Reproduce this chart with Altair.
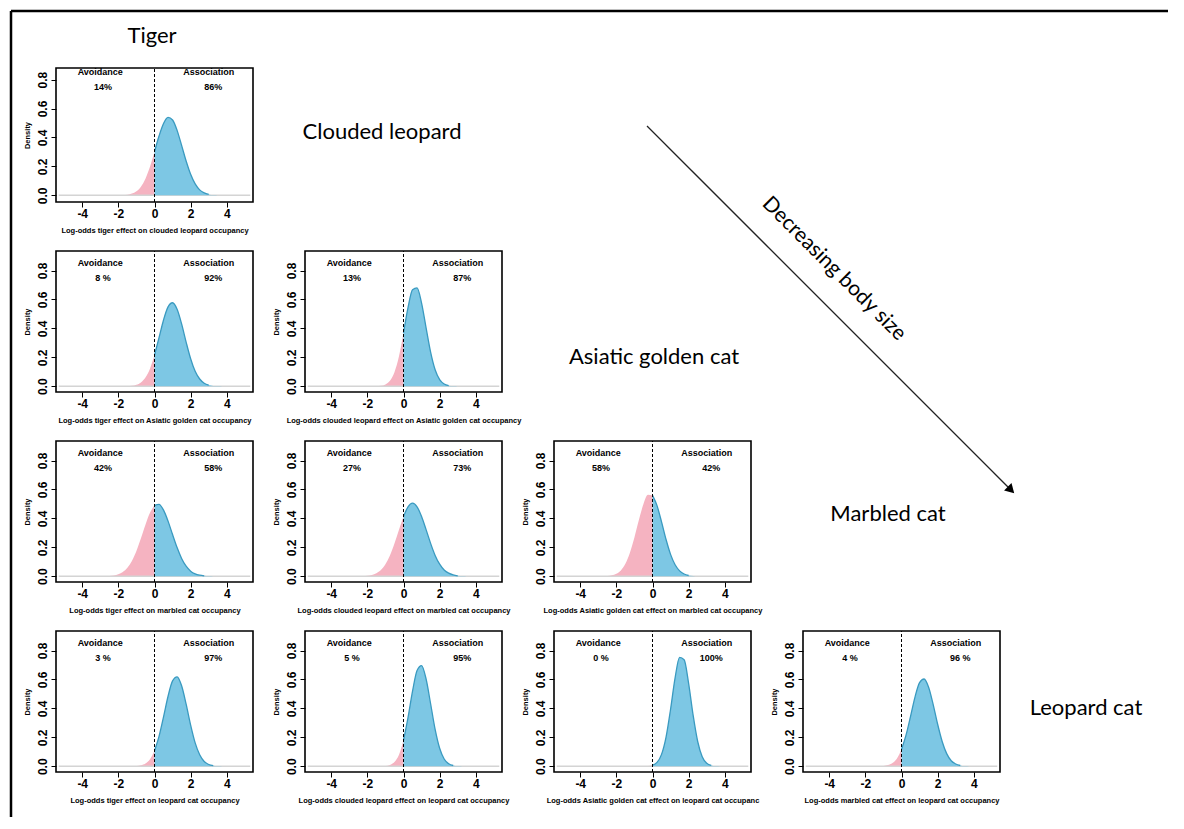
import altair as alt
import pandas as pd

# ---------------- data ----------------
X_GRID = [-3.0, -2.75, -2.5, -2.25, -2.0, -1.75, -1.5, -1.25, -1.0, -0.75, -0.5, -0.25,
          0.0, 0.25, 0.5, 0.75, 1.0, 1.25, 1.5, 1.75, 2.0, 2.25, 2.5, 2.75, 3.0, 3.25,
          3.5, 3.75, 4.0]
X_TICKS = [-4, -2, 0, 2, 4]
Y_TICKS = [0.0, 0.2, 0.4, 0.6, 0.8]

D_TIGER_CL = [0, 0, 0, 0, 0, 0.001, 0.004, 0.012, 0.028, 0.060, 0.115, 0.197, 0.301, 0.410,
              0.497, 0.539, 0.521, 0.449, 0.345, 0.237, 0.145, 0.079, 0.038, 0.017, 0.006,
              0.002, 0.001, 0, 0]
D_TIGER_AGC = [0, 0, 0, 0, 0, 0, 0.001, 0.003, 0.010, 0.026, 0.060, 0.121, 0.215, 0.335,
               0.458, 0.549, 0.577, 0.532, 0.431, 0.305, 0.190, 0.103, 0.050, 0.021, 0.008,
               0.002, 0.001, 0, 0]
D_CL_AGC = [0, 0, 0, 0, 0, 0, 0.001, 0.003, 0.012, 0.037, 0.097, 0.207, 0.369, 0.544,
            0.667, 0.680, 0.575, 0.404, 0.236, 0.114, 0.046, 0.015, 0.004, 0.001, 0, 0,
            0, 0, 0]
D_TIGER_MC = [0, 0.001, 0.002, 0.005, 0.013, 0.029, 0.058, 0.106, 0.175, 0.262, 0.356,
              0.438, 0.490, 0.497, 0.457, 0.381, 0.288, 0.198, 0.123, 0.069, 0.035, 0.016,
              0.007, 0.003, 0.001, 0, 0, 0, 0]
D_CL_MC = [0, 0, 0, 0.001, 0.003, 0.009, 0.021, 0.043, 0.083, 0.144, 0.227, 0.322, 0.413,
           0.480, 0.505, 0.480, 0.413, 0.322, 0.227, 0.144, 0.083, 0.043, 0.021, 0.009,
           0.003, 0.001, 0, 0, 0]
D_AGC_MC = [0, 0.001, 0.002, 0.006, 0.017, 0.040, 0.086, 0.162, 0.268, 0.390, 0.499, 0.563,
            0.559, 0.488, 0.376, 0.254, 0.151, 0.079, 0.037, 0.015, 0.005, 0.002, 0, 0, 0,
            0, 0, 0, 0]
D_TIGER_LC = [0, 0, 0, 0, 0, 0, 0, 0, 0.002, 0.006, 0.018, 0.048, 0.107, 0.206, 0.341,
              0.484, 0.590, 0.618, 0.556, 0.429, 0.284, 0.161, 0.079, 0.033, 0.012, 0.004,
              0.001, 0, 0]
D_CL_LC = [0, 0, 0, 0, 0, 0, 0, 0, 0.002, 0.009, 0.029, 0.079, 0.180, 0.336, 0.519, 0.662,
           0.696, 0.603, 0.432, 0.255, 0.124, 0.050, 0.017, 0.005, 0.001, 0, 0, 0, 0]
D_AGC_LC = [0, 0, 0, 0, 0, 0, 0, 0, 0, 0, 0, 0.001, 0.007, 0.026, 0.082, 0.202, 0.394,
            0.611, 0.753, 0.736, 0.571, 0.351, 0.171, 0.066, 0.020, 0.005, 0.001, 0, 0]
D_MC_LC = [0, 0, 0, 0, 0, 0, 0, 0.001, 0.002, 0.008, 0.022, 0.054, 0.116, 0.215, 0.345,
           0.480, 0.578, 0.603, 0.546, 0.428, 0.290, 0.171, 0.087, 0.038, 0.015, 0.005,
           0.001, 0, 0]

AVOID = ["14%", "8 %", "13%", "42%", "27%", "58%", "3 %", "5 %", "0 %", "4 %"]
ASSOC = ["86%", "92%", "87%", "58%", "73%", "42%", "97%", "95%", "100%", "96 %"]
X_TITLES = [
    "Log-odds tiger effect on clouded leopard occupancy",
    "Log-odds tiger effect on Asiatic golden cat occupancy",
    "Log-odds clouded leopard effect on Asiatic golden cat occupancy",
    "Log-odds tiger effect on marbled cat occupancy",
    "Log-odds clouded leopard effect on marbled cat occupancy",
    "Log-odds Asiatic golden cat effect on marbled cat occupancy",
    "Log-odds tiger effect on leopard cat occupancy",
    "Log-odds clouded leopard effect on leopard cat occupancy",
    "Log-odds Asiatic golden cat effect on leopard cat occupanc",
    "Log-odds marbled cat effect on leopard cat occupancy",
]
DENS = [D_TIGER_CL, D_TIGER_AGC, D_CL_AGC, D_TIGER_MC, D_CL_MC, D_AGC_MC,
        D_TIGER_LC, D_CL_LC, D_AGC_LC, D_MC_LC]
SPECIES = ["Tiger", "Clouded leopard", "Asiatic golden cat", "Marbled cat", "Leopard cat"]

# ---------------- style ----------------
W = 197
H1, H = 134, 141
YDOM1 = [-0.046, 0.88]
YDOM = [-0.04, 0.935]
PINK = "#f5b3c1"
BLUE = "#7dc7e4"
EDGE = "#3a9ac0"
GREY = "#d4d4d4"
SANS = "Liberation Sans"
BIG = "Lato"

one = pd.DataFrame({"k": [0]})


def panel(i, h, ydom, extra=()):
    df = pd.DataFrame({"x": X_GRID, "d": DENS[i]})
    xs = alt.Scale(domain=[-5.45, 5.45], nice=False, zero=False)
    ys = alt.Scale(domain=ydom, nice=False, zero=False)
    xax = alt.Axis(values=X_TICKS, title=X_TITLES[i], labelExpr="'' + datum.value")
    yax = alt.Axis(values=Y_TICKS, format=".1f", title="Density", labelAngle=270,
                   labelAlign="center", labelBaseline="bottom")
    X = alt.X("x:Q", scale=xs, axis=xax)
    Y = alt.Y("d:Q", scale=ys, axis=yax)

    def XD(v):
        return alt.XDatum(v, type="quantitative", scale=xs, axis=xax)

    def YD(v):
        return alt.YDatum(v, type="quantitative", scale=ys, axis=yax)

    a = alt.Chart(one)
    pink = alt.Chart(df).transform_filter("datum.x <= 0").mark_area(
        color=PINK, interpolate="monotone").encode(x=X, y=Y)
    blue = alt.Chart(df).transform_filter("datum.x >= 0").mark_area(
        color=BLUE, interpolate="monotone").encode(x=X, y=Y)
    base = a.mark_rule(color=GREY, strokeWidth=1.5).encode(
        x=XD(-5.3), x2=alt.X2Datum(5.3), y=YD(0))
    edge = alt.Chart(df).transform_filter("datum.x >= 0 && datum.d >= 0.003").mark_line(
        color=EDGE, strokeWidth=1.3, interpolate="monotone").encode(x=X, y=Y)
    zero = a.mark_rule(color="black", strokeDash=[3, 2], strokeWidth=1).encode(
        x=XD(0), y=YD(ydom[0]), y2=alt.Y2Datum(ydom[1]))

    def txt(s, xv, yv):
        return a.mark_text(text=s, font=SANS, fontSize=9, fontWeight="bold", color="black",
                           align="center", baseline="middle").encode(x=XD(xv), y=YD(yv))

    texts = [txt("Avoidance", -3.0, 0.85), txt(AVOID[i], -2.85, 0.75),
             txt("Association", 3.0, 0.85), txt(ASSOC[i], 3.25, 0.75)]
    return alt.layer(pink, base, blue, edge, zero, *texts, *extra).properties(width=W, height=h)


def blank(h):
    return alt.Chart(one).mark_point(opacity=0).encode(
        x=alt.value(0), y=alt.value(0)).properties(
        width=W, height=h, view=alt.ViewBackground(stroke="transparent"))


a = alt.Chart(one)


def label(s, px, py, size=22, angle=0):
    return a.mark_text(text=s, font=BIG, fontSize=size, color="black", align="center",
                       baseline="middle", angle=angle).encode(x=alt.value(px), y=alt.value(py))


# annotations positioned relative to the first panel's plot area
extra = [
    a.mark_rule(color="black", strokeWidth=2.5, strokeCap="butt").encode(
        x=alt.value(1112), x2=alt.value(-45), y=alt.value(-57), y2=alt.value(-57)),
    a.mark_rule(color="black", strokeWidth=2.5).encode(
        x=alt.value(-45), x2=alt.value(-45), y=alt.value(-57), y2=alt.value(749)),
    label(SPECIES[0], 96, -32),
    label(SPECIES[1], 326, 64),
    label(SPECIES[2], 598, 289),
    label(SPECIES[3], 832, 446),
    label(SPECIES[4], 1030, 640),
    label("Decreasing body size", 778, 201, size=21, angle=45),
    a.mark_rule(color="#222222", strokeWidth=1.3).encode(
        x=alt.value(591), y=alt.value(58), x2=alt.value(953), y2=alt.value(420)),
    a.mark_point(shape="triangle-up", filled=True, color="black", opacity=1, size=110,
                 angle=135).encode(x=alt.value(955), y=alt.value(422)),
]

cells = [
    panel(0, H1, YDOM1, extra), blank(H1), blank(H1), blank(H1),
    panel(1, H, YDOM), panel(2, H, YDOM), blank(H), blank(H),
    panel(3, H, YDOM), panel(4, H, YDOM), panel(5, H, YDOM), blank(H),
    panel(6, H, YDOM), panel(7, H, YDOM), panel(8, H, YDOM), panel(9, H, YDOM),
]

chart = alt.concat(*cells, columns=4, spacing={"row": 49, "column": 52},
                   bounds="flush").properties(padding=0, background="white")

chart = chart.configure_view(stroke="black", strokeWidth=1.6).configure_axis(
    domain=False, grid=False, tickColor="black", tickSize=5, tickWidth=1,
    labelFont=SANS, labelFontSize=12, labelFontWeight="bold", labelColor="black",
    titleFont=SANS, titleFontSize=7.5, titleFontWeight="bold", titleColor="black",
).configure_axisX(labelPadding=1, titlePadding=7).configure_axisY(
    labelPadding=2, titlePadding=5, titleFontSize=7.5)

chart.save("out.html", embed_options={"renderer": "svg", "actions": False})
